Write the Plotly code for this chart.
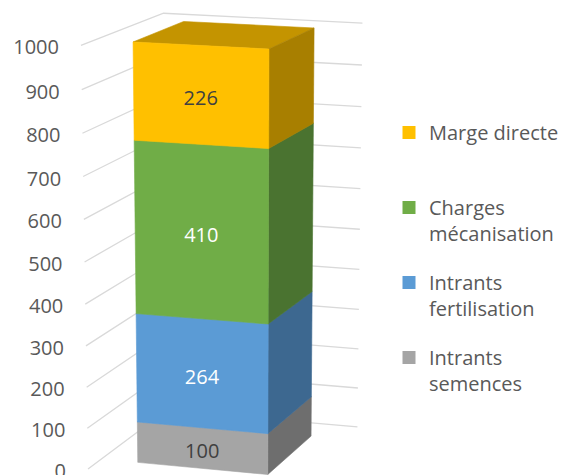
import plotly.graph_objects as go

# ---------------- data ----------------
series_names = ["Intrants semences", "Intrants fertilisation", "Charges mécanisation", "Marge directe"]
legend_labels = ["Intrants<br>semences", "Intrants<br>fertilisation", "Charges<br>mécanisation", "Marge directe<br> "]
series_values = [100, 264, 410, 226]
tick_values = [0, 100, 200, 300, 400, 500, 600, 700, 800, 900, 1000]
tick_labels = ["0", "100", "200", "300", "400", "500", "600", "700", "800", "900", "1000"]

# ---------------- styles ----------------
front_colors = ["#A5A5A5", "#5B9BD5", "#70AD47", "#FFC000"]
side_colors = ["#6E6E6E", "#3D6890", "#4A7330", "#A87F00"]
top_colors = ["#BDBDBD", "#7FB0DE", "#8CC06A", "#C49400"]
label_colors = ["#404040", "#FFFFFF", "#FFFFFF", "#404040"]
grid_color = "#D9D9D9"
text_color = "#595959"
FONT = "Open Sans"

# page offset (default body margin of the html page)
PAGE = 8
FIG_W, FIG_H = 566 - PAGE, 475 - PAGE

# 3D view (perspective camera, world box: X width, Y depth, Z value/axis max)
Z_MAX = 1000
CAMERA = [[197.2, 90.5, -10.55, 88.0],
          [9.6, -29.9, -425.5, 469.0],
          [-0.0196, 0.0707, -0.0436, 1.0]]
BAR_X = (0.184, 0.831)
BAR_Y = (0.161, 0.79)


def project(X, Y, val):
    v = val / Z_MAX
    h = [r[0] * X + r[1] * Y + r[2] * v + r[3] for r in CAMERA]
    return h[0] / h[2], h[1] / h[2]


def poly(points):
    xs, ys = [], []
    for p in points + [points[0]]:
        x, y = project(*p)
        xs.append(x)
        ys.append(y)
    return xs, ys


fig = go.Figure()

# gridlines on left wall and back wall
gx, gy = [], []
for v in tick_values:
    for p in [(0, 0, v), (0, 1, v), (1, 1, v)]:
        x, y = project(*p)
        gx.append(x)
        gy.append(y)
    gx.append(None)
    gy.append(None)
fig.add_trace(go.Scatter(x=gx, y=gy, mode="lines", line=dict(color=grid_color, width=1.3),
                         hoverinfo="skip", showlegend=False))

# value axis tick labels
lx, ly = [], []
for v in tick_values:
    x, y = project(0, 0, v)
    lx.append(x - 22)
    ly.append(y + 4)
fig.add_trace(go.Scatter(x=lx, y=ly, mode="text", text=tick_labels, textposition="middle left",
                         textfont=dict(family=FONT, size=20, color=text_color),
                         hoverinfo="skip", showlegend=False, cliponaxis=False))

# stacked 3D bar
x0, x1 = BAR_X
y0, y1 = BAR_Y
base = 0
centers = []
for i, val in enumerate(series_values):
    z0, z1 = base, base + val
    faces = [
        ([(x0, y0, z1), (x1, y0, z1), (x1, y1, z1), (x0, y1, z1)], top_colors[i]),
        ([(x1, y0, z0), (x1, y1, z0), (x1, y1, z1), (x1, y0, z1)], side_colors[i]),
        ([(x0, y0, z0), (x1, y0, z0), (x1, y0, z1), (x0, y0, z1)], front_colors[i]),
    ]
    for pts, col in faces:
        xs, ys = poly(pts)
        fig.add_trace(go.Scatter(x=xs, y=ys, mode="lines", fill="toself", fillcolor=col,
                                 line=dict(color=col, width=0.6), hoverinfo="skip",
                                 showlegend=False, name=series_names[i]))
    centers.append(project((x0 + x1) / 2, y0, (z0 + z1) / 2))
    base = z1

# data labels
for i, val in enumerate(series_values):
    cx, cy = centers[i]
    fig.add_trace(go.Scatter(x=[cx], y=[cy + 5], mode="text", text=[str(val)],
                             textposition="middle center",
                             textfont=dict(family=FONT, size=20, color=label_colors[i]),
                             hoverinfo="skip", showlegend=False))

# legend entries (top to bottom: last series first)
for i in reversed(range(len(series_values))):
    fig.add_trace(go.Scatter(x=[None], y=[None], mode="markers",
                             marker=dict(symbol="square", size=13, color=front_colors[i]),
                             name=legend_labels[i], legendgroup=series_names[i], showlegend=True))

fig.update_layout(
    width=FIG_W, height=FIG_H,
    margin=dict(l=0, r=0, t=0, b=0),
    paper_bgcolor="white", plot_bgcolor="white",
    xaxis=dict(range=[PAGE, 566], visible=False, fixedrange=True),
    yaxis=dict(range=[475, PAGE], visible=False, fixedrange=True),
    showlegend=True,
    legend=dict(x=(389 - PAGE) / FIG_W, y=1 - (113 - PAGE) / FIG_H, xanchor="left", yanchor="top",
                font=dict(family=FONT, size=20, color=text_color),
                valign="top", tracegroupgap=20, bgcolor="rgba(0,0,0,0)",
                itemclick=False, itemdoubleclick=False),
)

fig.write_html("out.html")
